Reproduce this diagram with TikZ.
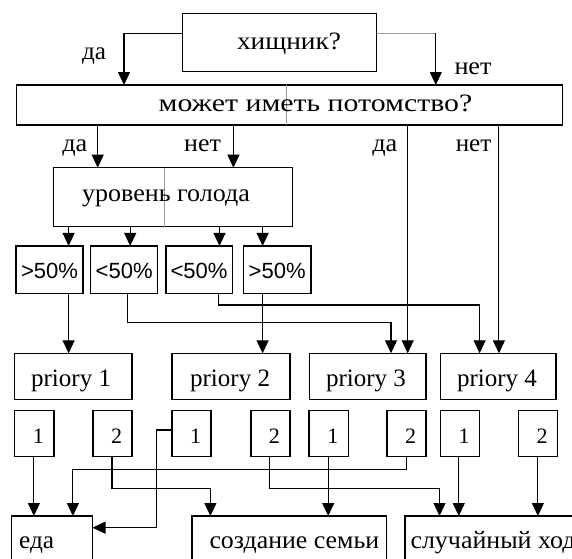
\documentclass[tikz,border=0pt]{standalone}
\usepackage{fontspec}
\usepackage{graphicx}
\setmainfont{Liberation Serif}
\newfontfamily\pcfont{Liberation Sans}
\usetikzlibrary{arrows.meta}
\newsavebox\fitbox
\newcommand\fitto[2]{\sbox\fitbox{#2}\pgfmathsetmacro\fitk{#1/(\the\wd\fitbox)}\scalebox{\fitk}[1]{\usebox\fitbox}}
\begin{document}
\begin{tikzpicture}[x=1pt,y=-1pt,
  box/.style={draw, line width=1.5pt, inner sep=0pt, outer sep=0pt},
  ln/.style={line width=1.1pt},
  arr/.style={line width=1.1pt, -{Triangle[length=13pt,width=12pt]}},
  txt/.style={inner sep=0pt, anchor=base, font=\fontsize{25}{27}\selectfont},
  ptxt/.style={inner sep=0pt, anchor=base, font=\pcfont\fontsize{22}{24}\selectfont},
  grayln/.style={line width=0.9pt, black!40}]
\useasboundingbox (0,0) rectangle (572,558);
\clip (0,0) rectangle (572,558);
\fill[white] (0,0) rectangle (572,558);

% boxes
\node[box, minimum width=194.4pt, minimum height=58.4pt] (q1) at (279.5,42.5) {};
\node[box, minimum width=546.3pt, minimum height=40pt] (q2) at (289.5,105) {};
\node[box, minimum width=238.9pt, minimum height=59pt] (q3) at (173,197.2) {};
\node[box, minimum width=67.2pt, minimum height=47.3pt] (p1) at (49.6,269.6) {};
\node[box, minimum width=67.1pt, minimum height=47.3pt] (p2) at (124,269.6) {};
\node[box, minimum width=66.3pt, minimum height=47.3pt] (p3) at (199.1,269.6) {};
\node[box, minimum width=67.1pt, minimum height=47.3pt] (p4) at (277.2,269.6) {};
\node[box, minimum width=117.4pt, minimum height=46pt] (r1) at (73.3,376.3) {};
\node[box, minimum width=117.9pt, minimum height=46pt] (r2) at (231,376.3) {};
\node[box, minimum width=116.7pt, minimum height=46pt] (r3) at (367.6,376.3) {};
\node[box, minimum width=115.6pt, minimum height=46pt] (r4) at (498.4,376.3) {};
\foreach \n/\x in {1/34.3,2/112.5,3/191.5,4/270.4,5/328.8,6/406.6,7/460.1,8/538}
  \node[box, minimum width=39.2pt, minimum height=46pt] (s\n) at (\x,433.7) {};
\node[box, minimum width=81pt, minimum height=64pt] (e1) at (52,548) {};
\node[box, minimum width=194.6pt, minimum height=64pt] (e2) at (289.3,548) {};
\node[box, minimum width=235.2pt, minimum height=64pt] (e3) at (522.4,548) {};

% grey dividers
\coordinate (g1) at (286.3,105);
\coordinate (g2) at (164.1,197);
\draw[grayln] (q2.north -| g1) -- (q2.south -| g1);
\draw[grayln] (q3.north -| g2) -- (q3.south -| g2);

% bend coordinates
\coordinate (cA) at (124,33.3);
\coordinate (cB) at (435.8,33.3);
\coordinate (d1) at (97.7,150);
\coordinate (d2) at (233.4,150);
\coordinate (d3) at (407.7,150);
\coordinate (d4) at (498.9,150);
\coordinate (f1) at (68.6,240);
\coordinate (f2) at (130.2,240);
\coordinate (f3) at (219.5,240);
\coordinate (f4) at (262.6,240);
\coordinate (h1) at (127.6,322.7);
\coordinate (h2) at (391,322.7);
\coordinate (k1) at (218.8,305);
\coordinate (k2) at (479.6,305);
\coordinate (m1) at (33.9,480);
\coordinate (m2) at (406.6,469.3);
\coordinate (m3) at (72.9,469.3);
\coordinate (n1) at (112,488.3);
\coordinate (n2) at (210.4,488.3);
\coordinate (o1) at (269.9,488.3);
\coordinate (o2) at (439.5,488.3);
\coordinate (u1) at (328.2,480);
\coordinate (u2) at (458.8,480);
\coordinate (u3) at (537.9,480);
\coordinate (t1) at (156.8,430);
\coordinate (t2) at (156.8,527.7);

% connectors
\draw[arr] (q1.west |- cA) -| (q2.north -| cA);
\draw[grayln] (q1.east |- cB) -- (cB);
\draw[arr] (cB) -- (q2.north -| cB);
\draw[arr] (q2.south -| d1) -- (q3.north -| d1);
\draw[arr] (q2.south -| d2) -- (q3.north -| d2);
\draw[arr] (q2.south -| d3) -- (r3.north -| d3);
\draw[arr] (q2.south -| d4) -- (r4.north -| d4);
\draw[arr] (q3.south -| f1) -- (p1.north -| f1);
\draw[arr] (q3.south -| f2) -- (p2.north -| f2);
\draw[arr] (q3.south -| f3) -- (p3.north -| f3);
\draw[arr] (q3.south -| f4) -- (p4.north -| f4);
\draw[arr] (p1.south -| f1) -- (r1.north -| f1);
\draw[arr] (p2.south -| h1) -- (h1) -- (h2) -- (r3.north -| h2);
\draw[arr] (p3.south -| k1) -- (k1) -- (k2) -- (r4.north -| k2);
\draw[arr] (p4.south -| f4) -- (r2.north -| f4);
\draw[arr] (s1.south -| m1) -- (e1.north -| m1);
\draw[arr] (s6.south -| m2) -- (m2) -- (m3) -- (e1.north -| m3);
\draw[arr] (s2.south -| n1) -- (n1) -- (n2) -- (e2.north -| n2);
\draw[arr] (s5.south -| u1) -- (e2.north -| u1);
\draw[arr] (s4.south -| o1) -- (o1) -- (o2) -- (e3.north -| o2);
\draw[arr] (s7.south -| u2) -- (e3.north -| u2);
\draw[arr] (s8.south -| u3) -- (e3.north -| u3);
\draw[arr] (s3.west |- t1) -- (t1) -- (t2) -- (e1.east |- t2);

% texts
\node[txt] (tq1) at (289,49) {\fitto{104}{хищник?}};
\node[txt] (tq2) at (315.5,111.5) {\fitto{313.7}{может иметь потомство?}};
\node[txt] (tq3) at (166,201) {\fitto{167.8}{уровень голода}};
\node[ptxt] (tp1) at (49.6,278) {\fitto{57}{>50\%}};
\node[ptxt] (tp2) at (124.2,278) {\fitto{57}{<50\%}};
\node[ptxt] (tp3) at (199.1,278) {\fitto{57}{<50\%}};
\node[ptxt] (tp4) at (277.2,278) {\fitto{57}{>50\%}};
\node[txt] (tr1) at (71.1,386) {\fitto{80}{priory 1}};
\node[txt] (tr2) at (230.1,386) {\fitto{80}{priory 2}};
\node[txt] (tr3) at (366,386) {\fitto{80}{priory 3}};
\node[txt] (tr4) at (497,386) {\fitto{80}{priory 4}};
\foreach \n/\d in {1/1,2/2,3/1,4/2,5/1,6/2,7/1,8/2}
  \node[txt] (ts\n) at ([xshift=4pt]s\n.center |- 0,443.3) {\fontsize{22}{24}\selectfont\d};
\node[txt] (l1) at (94,59) {\fitto{24}{да}};
\node[txt] (l2) at (473,74) {\fitto{37}{нет}};
\node[txt] (l3) at (74.8,151.5) {\fitto{25}{да}};
\node[txt] (l4) at (202.5,151.5) {\fitto{36.6}{нет}};
\node[txt] (l5) at (384.8,151.5) {\fitto{25}{да}};
\node[txt] (l6) at (473.5,151.5) {\fitto{35.5}{нет}};
\node[txt, anchor=base west] (te1) at (19,548) {\fitto{35}{еда}};
\node[txt, anchor=base east] (te2) at (379.3,548) {\fitto{169.6}{создание семьи}};
\node[txt, anchor=base west] (te3) at (410.3,548) {\fitto{165}{случайный ход}};
\end{tikzpicture}
\end{document}
